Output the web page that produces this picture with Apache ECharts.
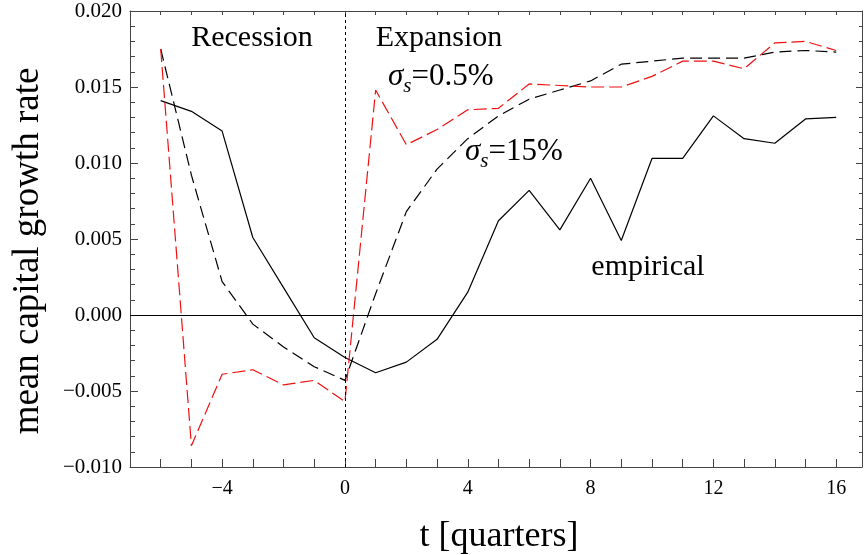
<!DOCTYPE html>
<html>
<head>
<meta charset="utf-8">
<script src="https://cdn.jsdelivr.net/npm/echarts@6/dist/echarts.min.js"></script>
<style>
html,body{margin:0;padding:0;background:#fff;}
#chart{width:865px;height:555px;}
</style>
</head>
<body>
<div id="chart"></div>
<script>
var quarters = [-6,-5,-4,-3,-2,-1,0,1,2,3,4,5,6,7,8,9,10,11,12,13,14,15,16];
var empirical = [0.0141,0.0134,0.0121,0.0051,0.0018,-0.0015,-0.0028,-0.0038,-0.0031,-0.0016,0.0015,0.0062,0.0082,0.0056,0.0090,0.0049,0.0103,0.0103,0.0131,0.0116,0.0113,0.0129,0.0130];
var sigma15 = [0.0175,0.0092,0.0022,-0.0006,-0.0021,-0.0034,-0.0043,0.0014,0.0068,0.0096,0.0116,0.0131,0.0142,0.0148,0.0154,0.0165,0.0167,0.0169,0.0169,0.0169,0.0173,0.0174,0.0173];
var sigma05 = [0.0175,-0.0086,-0.0039,-0.0036,-0.0046,-0.0043,-0.0057,0.0148,0.0112,0.0122,0.0135,0.0136,0.0152,0.0151,0.0150,0.0150,0.0157,0.0167,0.0167,0.0162,0.0179,0.0180,0.0174];
var xTickLabels = [-4,0,4,8,12,16];
var yTickLabels = [-0.010,-0.005,0.000,0.005,0.010,0.015,0.020];

var FONT = 'Liberation Serif';
function pairs(ys){ return quarters.map(function(t,i){ return [t, ys[i]]; }); }
function fmtY(v){
  var s = yTickLabels.reduce(function(best,c){ return Math.abs(c-v) < Math.abs(best-v) ? c : best; }, yTickLabels[0]);
  if (Math.abs(s - v) > 1e-9) return '';
  if (Math.abs(s) < 1e-12) return '0.000';
  return (s < 0 ? '\u2212' : '') + Math.abs(s).toFixed(3);
}
function fmtX(v){
  for (var i=0;i<xTickLabels.length;i++){
    if (Math.abs(xTickLabels[i]-v) < 1e-9) return (v < 0 ? '\u2212' : '') + Math.abs(v);
  }
  return '';
}
var axisCol = '#444';
var chart = echarts.init(document.getElementById('chart'), null, {renderer:'canvas'});
chart.setOption({
  animation:false,
  backgroundColor:'#fff',
  grid:{left:130,right:2,top:11,bottom:88,containLabel:false},
  xAxis:[{
    type:'value', min:-7, max:16.84, interval:1, position:'bottom',
    axisLine:{onZero:false, lineStyle:{color:axisCol,width:1}},
    axisTick:{inside:true,length:8,lineStyle:{color:axisCol}},
    axisLabel:{formatter:fmtX, fontFamily:FONT, fontSize:20, color:'#000', margin:12, showMinLabel:true, showMaxLabel:true},
    splitLine:{show:false}
  },{
    type:'value', min:-7, max:16.84, interval:1, position:'top',
    axisLine:{onZero:false, lineStyle:{color:axisCol,width:1}},
    axisTick:{inside:true,length:4,lineStyle:{color:axisCol}},
    axisLabel:{show:false}, splitLine:{show:false}
  }],
  yAxis:[{
    type:'value', min:-0.01, max:0.02, interval:0.005, position:'left',
    axisLine:{onZero:false, lineStyle:{color:axisCol,width:1}},
    axisTick:{inside:true,length:8,lineStyle:{color:axisCol}},
    minorTick:{show:true,splitNumber:5,length:5,lineStyle:{color:axisCol}},
    axisLabel:{formatter:fmtY, fontFamily:FONT, fontSize:21, color:'#000', margin:8},
    splitLine:{show:false}, minorSplitLine:{show:false}
  },{
    type:'value', min:-0.01, max:0.02, interval:0.005, position:'right',
    axisLine:{onZero:false, lineStyle:{color:axisCol,width:1}},
    axisTick:{inside:true,length:6,lineStyle:{color:axisCol}},
    minorTick:{show:true,splitNumber:5,length:3,lineStyle:{color:axisCol}},
    axisLabel:{show:false}, splitLine:{show:false}, minorSplitLine:{show:false}
  }],
  series:[{
    name:'empirical', type:'line', data:pairs(empirical), showSymbol:false, symbol:'none',
    lineStyle:{color:'#000',width:1.2,type:'solid'},
    markLine:{
      silent:true, symbol:['none','none'], label:{show:false},
      data:[
        {xAxis:0, lineStyle:{color:'#000',width:1,type:[3,3]}},
        {yAxis:0, lineStyle:{color:'#000',width:1,type:'solid'}}
      ]
    },
    z:3
  },{
    name:'σs=15%', type:'line', data:pairs(sigma15), showSymbol:false, symbol:'none',
    lineStyle:{color:'#000',width:1.2,type:[12,6]}, z:2
  },{
    name:'σs=0.5%', type:'line', data:pairs(sigma05), showSymbol:false, symbol:'none',
    lineStyle:{color:'#f01010',width:1.2,type:[13,5]}, z:4
  }],
  graphic:[
    {type:'text', x:252, y:38, style:{text:'Recession', font:'30px "Liberation Serif"', fill:'#000', align:'center', verticalAlign:'middle'}},
    {type:'text', x:439, y:38, style:{text:'Expansion', font:'30px "Liberation Serif"', fill:'#000', align:'center', verticalAlign:'middle'}},
    {type:'text', x:388, y:86, style:{
      text:'{sig|σ}{sub|s}{eq|=0.5%}', align:'left', verticalAlign:'middle', fill:'#000',
      rich:{
        sig:{fontFamily:FONT,fontStyle:'italic',fontSize:31,lineHeight:30,verticalAlign:'top'},
        sub:{fontFamily:FONT,fontStyle:'italic',fontSize:21,lineHeight:50},
        eq:{fontFamily:FONT,fontSize:31,lineHeight:30,verticalAlign:'top'}
      }}},
    {type:'text', x:465, y:161, style:{
      text:'{sig|σ}{sub|s}{eq|=15%}', align:'left', verticalAlign:'middle', fill:'#000',
      rich:{
        sig:{fontFamily:FONT,fontStyle:'italic',fontSize:31,lineHeight:30,verticalAlign:'top'},
        sub:{fontFamily:FONT,fontStyle:'italic',fontSize:21,lineHeight:50},
        eq:{fontFamily:FONT,fontSize:31,lineHeight:30,verticalAlign:'top'}
      }}},
    {type:'text', x:648, y:267, style:{text:'empirical', font:'30px "Liberation Serif"', fill:'#000', align:'center', verticalAlign:'middle'}},
    {type:'text', x:499, y:537, style:{text:'t [quarters]', font:'36px "Liberation Serif"', fill:'#000', align:'center', verticalAlign:'middle'}},
    {type:'text', x:28, y:251, rotation:Math.PI/2, style:{text:'mean capital growth rate', font:'37px "Liberation Serif"', fill:'#000', align:'center', verticalAlign:'middle'}}
  ]
});
</script>
</body>
</html>
